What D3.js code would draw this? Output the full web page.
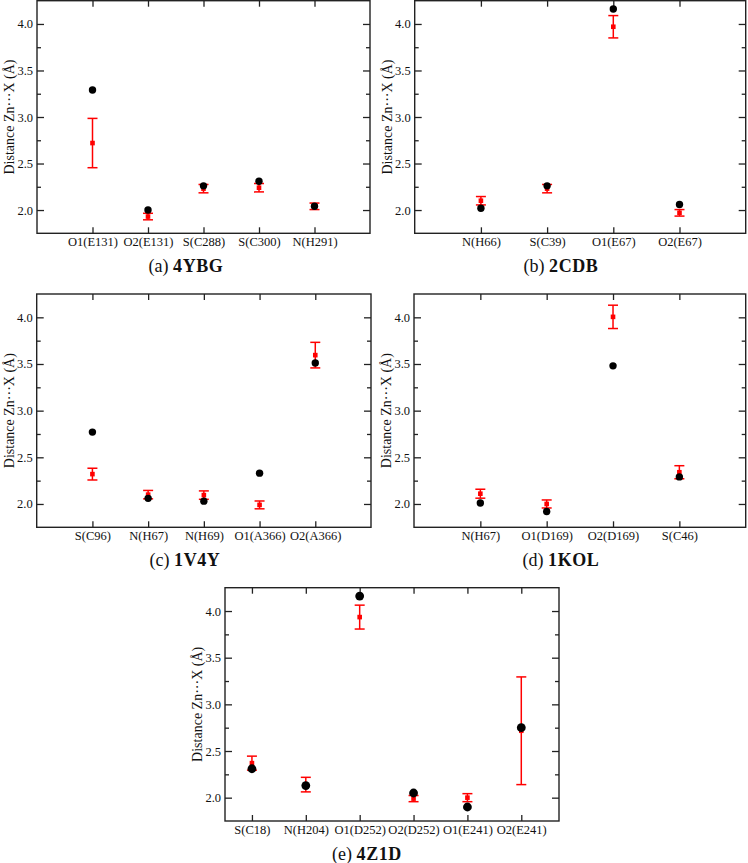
<!DOCTYPE html>
<html>
<head>
<meta charset="utf-8">
<script src="https://cdn.jsdelivr.net/npm/d3@7"></script>
<style>
  body { margin: 0; background: #fff; }
  svg { display: block; }
  svg text { font-family: "Liberation Serif", "Times New Roman", Times, "DejaVu Serif", serif; fill: #111; }
</style>
</head>
<body>
<div class="fig"></div>
<script>
// data, one set of arrays per panel
var namesA = ["O1(E131)", "O2(E131)", "S(C288)", "S(C300)", "N(H291)"];
var dftA   = [3.29, 2.00, 2.26, 2.31, 2.04];
var mdA    = [2.72, 1.93, 2.23, 2.24, 2.04];
var errA   = [0.265, 0.035, 0.045, 0.045, 0.035];

var namesB = ["N(H66)", "S(C39)", "O1(E67)", "O2(E67)"];
var dftB   = [2.02, 2.26, 4.16, 2.06];
var mdB    = [2.10, 2.23, 3.97, 1.97];
var errB   = [0.045, 0.045, 0.12, 0.035];

var namesC = ["S(C96)", "N(H67)", "N(H69)", "O1(A366)", "O2(A366)"];
var dftC   = [2.77, 2.06, 2.03, 2.33, 3.51];
var mdC    = [2.32, 2.10, 2.095, 1.99, 3.595];
var errC   = [0.063, 0.045, 0.045, 0.042, 0.137];

var namesD = ["N(H67)", "O1(D169)", "O2(D169)", "S(C46)"];
var dftD   = [2.01, 1.92, 3.48, 2.29];
var mdD    = [2.11, 2.00, 4.005, 2.34];
var errD   = [0.048, 0.043, 0.125, 0.07];

var namesE = ["S(C18)", "N(H204)", "O1(D252)", "O2(D252)", "O1(E241)", "O2(E241)"];
var dftE   = [2.31, 2.13, 4.16, 2.05, 1.90, 2.75];
var mdE    = [2.37, 2.14, 3.935, 1.99, 2.00, 2.717];
var errE   = [0.075, 0.078, 0.128, 0.033, 0.043, 0.577];

var yMajor = [2.0, 2.5, 3.0, 3.5, 4.0];
var yMinor = [2.25, 2.75, 3.25, 3.75];

var serif = "'Liberation Serif', 'Times New Roman', Times, 'DejaVu Serif', serif";

var panels = [
  {tag: "(a)", id: "4YBG", names: namesA, dft: dftA, md: mdA, err: errA,
   l: 37, r: 370, t: 0.7, b: 233.3, xd: [0, 6], dot: 3.7, cx: 186},
  {tag: "(b)", id: "2CDB", names: namesB, dft: dftB, md: mdB, err: errB,
   l: 414.7, r: 745.7, t: 0.7, b: 233.3, xd: [0, 5], dot: 3.7, cx: 561},
  {tag: "(c)", id: "1V4Y", names: namesC, dft: dftC, md: mdC, err: errC,
   l: 36.7, r: 371, t: 294, b: 527.3, xd: [0, 6], dot: 3.7, cx: 185},
  {tag: "(d)", id: "1KOL", names: namesD, dft: dftD, md: mdD, err: errD,
   l: 414, r: 745.7, t: 294, b: 527.3, xd: [0, 5], dot: 3.7, cx: 561},
  {tag: "(e)", id: "4Z1D", names: namesE, dft: dftE, md: mdE, err: errE,
   l: 225, r: 559, t: 587.7, b: 821, xd: [0.5, 6.7], dot: 4.4, cx: 367}
];

var svg = d3.select(".fig").append("svg")
  .attr("width", 748).attr("height", 863)
  .attr("font-family", serif);

panels.forEach(function(p) {
  var x = d3.scaleLinear().domain(p.xd).range([p.l, p.r]);
  var y = d3.scaleLinear().domain([1.75, 4.25]).range([p.b, p.t]);
  var idx = p.names.map(function(d, i) { return i + 1; });
  var g = svg.append("g");

  //axes, ticks all pointing inward
  g.append("g").attr("transform", "translate(" + p.l + ",0)")
    .call(d3.axisLeft(y).tickValues(yMajor).tickSize(-7).tickPadding(4)
      .tickFormat(d3.format(".1f")));
  g.append("g").attr("transform", "translate(" + p.l + ",0)")
    .call(d3.axisLeft(y).tickValues(yMinor).tickSize(-4).tickFormat(""));
  g.append("g").attr("transform", "translate(" + p.r + ",0)")
    .call(d3.axisRight(y).tickValues(yMajor).tickSize(-7).tickFormat(""));
  g.append("g").attr("transform", "translate(" + p.r + ",0)")
    .call(d3.axisRight(y).tickValues(yMinor).tickSize(-4).tickFormat(""));
  g.append("g").attr("transform", "translate(0," + p.t + ")")
    .call(d3.axisTop(x).tickValues(idx).tickSize(-6).tickFormat(""));
  g.append("g").attr("transform", "translate(0," + p.b + ")")
    .call(d3.axisBottom(x).tickValues(idx).tickSize(-6).tickPadding(4)
      .tickFormat(function(d) { return p.names[d - 1]; }));

  g.selectAll(".domain").remove();
  g.selectAll("g").attr("font-family", null);
  g.selectAll(".tick line").attr("stroke", "#222").attr("stroke-width", 1.3);
  g.selectAll(".tick text").attr("font-size", "12.5px").attr("fill", "#111");

  g.append("rect")
    .attr("x", p.l).attr("y", p.t)
    .attr("width", p.r - p.l).attr("height", p.b - p.t)
    .attr("fill", "none").attr("stroke", "#222").attr("stroke-width", 1.4);

  // red error bars + squares
  var red = g.append("g");
  p.md.forEach(function(v, i) {
    var cx = x(i + 1);
    var y0 = y(v - p.err[i]), y1 = y(v + p.err[i]);
    red.append("line").attr("x1", cx).attr("x2", cx).attr("y1", y0).attr("y2", y1)
      .attr("stroke", "#f00").attr("stroke-width", 1.5);
    [y0, y1].forEach(function(yy) {
      red.append("line").attr("x1", cx - 5).attr("x2", cx + 5).attr("y1", yy).attr("y2", yy)
        .attr("stroke", "#f00").attr("stroke-width", 1.5);
    });
    red.append("rect").attr("x", cx - 2.3).attr("y", y(v) - 2.3)
      .attr("width", 4.6).attr("height", 4.6).attr("fill", "#f00");
  });

  // black dots on top
  g.selectAll("circle.dft").data(p.dft).enter().append("circle")
    .attr("class", "dft")
    .attr("cx", function(d, i) { return x(i + 1); })
    .attr("cy", function(d) { return y(d); })
    .attr("r", p.dot).attr("fill", "#000");

  // y label
  g.append("text")
    .attr("transform", "translate(" + (p.l - 28) + "," + ((p.t + p.b) / 2) + ") rotate(-90)")
    .attr("text-anchor", "middle").attr("dy", "0.35em")
    .attr("font-size", "14px")
    .text("Distance Zn\u00B7\u00B7\u00B7X (\u00C5)");

  // caption
  var cap = g.append("text")
    .attr("x", p.cx).attr("y", p.b + 38.7)
    .attr("text-anchor", "middle").attr("font-size", "18px");
  cap.append("tspan").text(p.tag + " ");
  cap.append("tspan").attr("font-weight", "bold").attr("letter-spacing", "0.6px").text(p.id);
});
</script>
</body>
</html>
